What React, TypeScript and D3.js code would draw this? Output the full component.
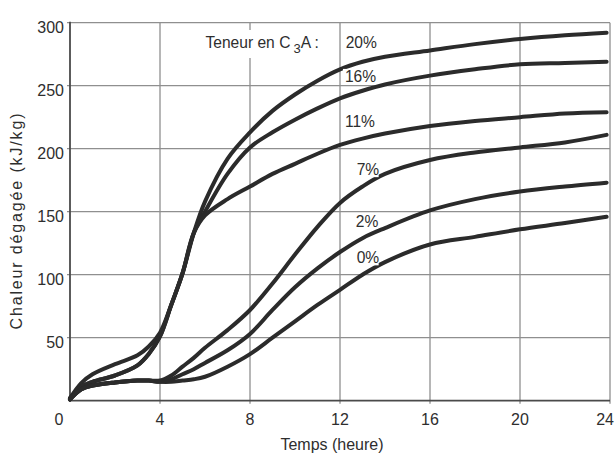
import React from "react";
import * as d3 from "d3";

// ---- data ----
const hours = [0, 0.5, 1, 2, 3, 3.5, 4, 4.5, 5, 5.5, 6, 7, 8, 9, 10, 11, 12, 13, 14, 16, 18, 20, 22, 23.85];
const heat20 = [2, 14, 21, 29, 36, 43, 54, 76, 101, 133, 158, 192, 213, 230, 243, 254, 263, 269, 273, 278, 283, 287, 290, 292];
const heat16 = [2, 11, 15, 20, 28, 37, 51, 76, 101, 133, 150, 180, 201, 213, 223, 232, 240, 246, 251, 258, 263, 267, 268, 269];
const heat11 = [2, 11, 15, 20, 28, 37, 51, 76, 101, 133, 147, 160, 170, 180, 188, 196, 203, 208, 212, 218, 222, 225, 228, 229];
const heat7 = [1, 9, 12, 14.5, 16, 16, 16, 20, 27, 34, 42, 56, 72, 93, 116, 138, 157, 170, 180, 191, 197, 201, 205, 211];
const heat2 = [1, 9, 12, 14.5, 16, 16, 15, 17, 21, 25, 30, 40, 53, 72, 90, 105, 118, 129, 137, 151, 160, 166, 170, 173];
const heat0 = [1, 9, 12, 14.5, 16, 16, 15, 15, 16, 17, 19, 27, 37, 50, 63, 76, 88, 100, 110, 124, 130, 136, 141, 146];

const seriesLabels = ["20%", "16%", "11%", "7%", "2%", "0%"];
const seriesValues = [heat20, heat16, heat11, heat7, heat2, heat0];
// label anchors in data units (hours, kJ/kg)
const labelHours = [12.25, 12.22, 12.22, 12.74, 12.7, 12.74];
const labelHeat = [280, 253, 217.5, 179, 138, 109];

const xTicks = [0, 4, 8, 12, 16, 20, 24];
const yTicks = [50, 100, 150, 200, 250, 300];

const xTitle = "Temps (heure)";
const yTitle = "Chaleur dégagée (kJ/kg)";

const FONT = "'Liberation Sans', Arial, Helvetica, sans-serif";

export default function App() {
  const W = 615;
  const H = 459;
  const x = d3.scaleLinear().domain([0, 24]).range([70, 610]);
  const y = d3.scaleLinear().domain([0, 300]).range([400.7, 22.7]);

  const line = d3
    .line<[number, number]>()
    .x((d) => x(d[0]))
    .y((d) => y(d[1]))
    .curve(d3.curveCatmullRom.alpha(0.5));

  const gridColor = "#8f8f8f";
  const axisColor = "#4a4a4a";
  const textColor = "#2e2e2e";
  const curveColor = "#2b2b2b";

  return (
    <svg
      width={W}
      height={H}
      style={{ position: "absolute", left: 0, top: 0, background: "#fff", overflow: "hidden" }}
    >
      <rect x={0} y={0} width={W} height={H} fill="#fff" />
      {/* vertical grid */}
      {xTicks.filter((t) => t > 0).map((t) => (
        <line key={"vx" + t} x1={x(t)} x2={x(t)} y1={y(300)} y2={y(0) + 3} stroke={gridColor} strokeWidth={1.3} />
      ))}
      {/* horizontal grid */}
      {yTicks.map((t) => (
        <line key={"hy" + t} x1={x(0) - 3} x2={x(24)} y1={y(t)} y2={y(t)} stroke={gridColor} strokeWidth={1.3} />
      ))}
      {/* axes */}
      <line x1={x(0)} x2={x(0)} y1={y(300) - 1} y2={y(0) + 1} stroke={axisColor} strokeWidth={1.8} />
      <line x1={x(0)} x2={x(24)} y1={y(0)} y2={y(0)} stroke={axisColor} strokeWidth={1.8} />

      {/* y tick labels */}
      {yTicks.map((t) => (
        <text key={"yl" + t} x={x(0) - 6} y={y(t) + 10} textAnchor="end" fontFamily={FONT} fontSize={16} fill={textColor}>
          {t}
        </text>
      ))}
      {/* x tick labels */}
      {xTicks.map((t) => (
        <text
          key={"xl" + t}
          x={t === 24 ? W - 1 : x(t) + (t === 0 ? -11 : 0)}
          y={425}
          textAnchor={t === 24 ? "end" : "middle"}
          fontFamily={FONT}
          fontSize={16}
          fill={textColor}
        >
          {t}
        </text>
      ))}
      {/* axis titles */}
      <text x={(x(0) + x(24)) / 2 - 8} y={450} textAnchor="middle" fontFamily={FONT} fontSize={16} fill={textColor}>
        {xTitle}
      </text>
      <text
        transform={`translate(22, 221.5) rotate(-90)`}
        textAnchor="middle"
        fontFamily={FONT}
        fontSize={16}
        fill={textColor}
        textLength={216}
        lengthAdjust="spacing"
      >
        {yTitle}
      </text>

      {/* curves */}
      {seriesValues.map((vals, i) => (
        <path
          key={"c" + i}
          d={line(hours.map((h, j) => [h, vals[j]] as [number, number])) || ""}
          fill="none"
          stroke={curveColor}
          strokeWidth={4}
          strokeLinecap="round"
          strokeLinejoin="round"
        />
      ))}

      {/* legend title */}
      <rect x={200} y={30} width={134} height={28} fill="#fff" />
      <text x={x(6.02)} y={y(280)} fontFamily={FONT} fontSize={15.6} fill={textColor}>
        Teneur en C
        <tspan dx={3} dy={5} fontSize={13}>3</tspan>
        <tspan dy={-5}>A :</tspan>
      </text>

      {/* series labels */}
      {seriesLabels.map((lab, i) => (
        <g key={"l" + i}>
          <rect x={x(labelHours[i]) - 2} y={y(labelHeat[i]) - 13} width={lab.length * 10 + 4} height={15} fill="#fff" />
          <text x={x(labelHours[i])} y={y(labelHeat[i])} fontFamily={FONT} fontSize={15.6} fill={textColor}>
            {lab}
          </text>
        </g>
      ))}
    </svg>
  );
}
